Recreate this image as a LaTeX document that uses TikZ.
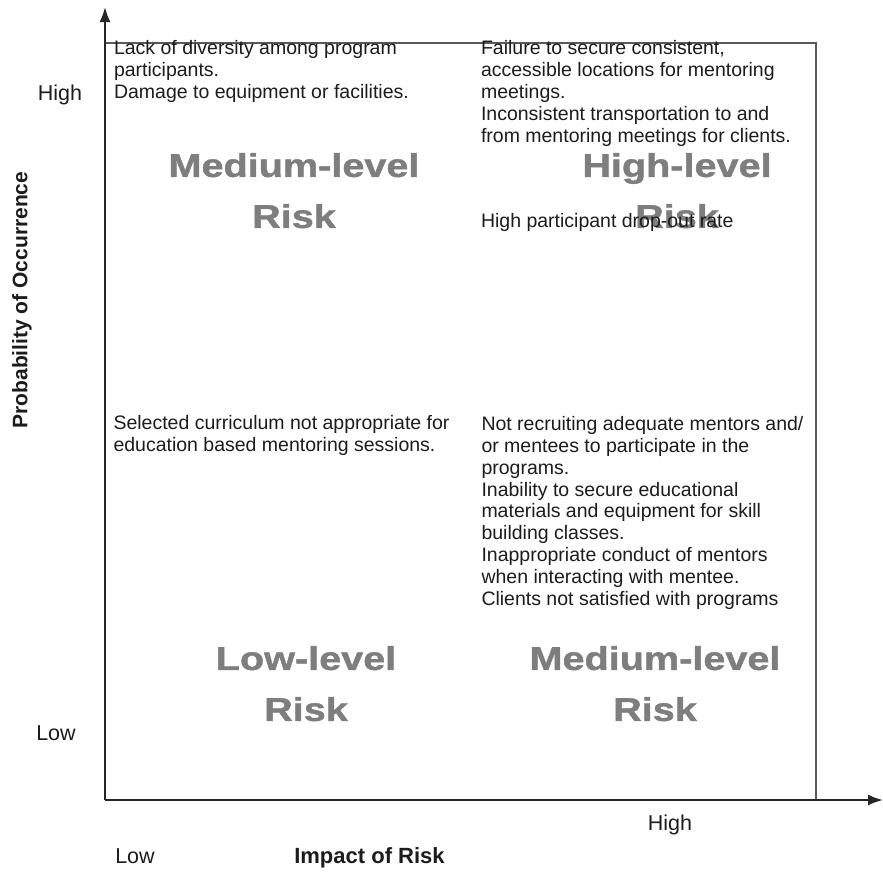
\documentclass[tikz,border=0pt]{standalone}
\usepackage{fontspec}
\setmainfont{Liberation Sans}
\newfontfamily\riskfont[FakeBold=1.2]{Liberation Sans Bold}
\usepackage{graphicx}
\usetikzlibrary{arrows.meta}
\newcommand{\wideit}[1]{\scalebox{1.2}[1]{#1}}
\definecolor{riskgray}{HTML}{7E7E7E}
\definecolor{inkblack}{HTML}{1C1C1C}
\begin{document}
\begin{tikzpicture}[x=1pt,y=-1pt,
  every node/.style={inner sep=0pt, outer sep=0pt},
  body/.style={anchor=north west, align=left, text=inkblack, font=\fontsize{19.5}{21.8}\selectfont},
  riskword/.style={anchor=north, align=center, text=riskgray, font=\riskfont\fontsize{33}{51}\selectfont},
  axislbl/.style={anchor=base, text=inkblack, font=\fontsize{21.5}{24}\selectfont},
  axisline/.style={line width=2pt, draw=black!85, -{Latex[length=15pt,width=11pt]}},
  frameline/.style={line width=1.5pt, draw=black!65}]
\useasboundingbox (0,0) rectangle (883,871);
% axes and frame
\coordinate (O) at (105,800);
\coordinate (ytip) at (105,7);
\coordinate (xtip) at (883,800);
\coordinate (FTL) at (105,43);
\coordinate (FTR) at (816,43);
\coordinate (FBR) at (816,800);
\draw[frameline] (FTL) -- (FTR) -- (FBR);
\draw[axisline] (O) -- (ytip);
\draw[axisline] (O) -- (xtip);
% risk level words
\node[riskword] (rtl) at (294,153) {\wideit{Medium-level}\\\wideit{Risk}};
\node[riskword] (rtr) at (677,153) {\wideit{High-level}\\\wideit{Risk}};
\node[riskword] (rbl) at (306,646) {\wideit{Low-level}\\\wideit{Risk}};
\node[riskword] (rbr) at (655,646) {\wideit{Medium-level}\\\wideit{Risk}};
% quadrant texts
\node[body] (tl) at (114,40.8) {Lack of diversity among program\\participants.\\Damage to equipment or facilities.};
\node[body] (tr) at (481,40.8) {Failure to secure consistent,\\accessible locations for mentoring\\meetings.\\Inconsistent transportation to and\\from mentoring meetings for clients.};
\node[body] (tr2) at (481,213.8) {High participant drop-out rate};
\node[body] (ml) at (113.5,415.6) {Selected curriculum not appropriate for\\education based mentoring sessions.};
\node[body] (mr) at (481.5,416.6) {Not recruiting adequate mentors and/\\or mentees to participate in the\\programs.\\Inability to secure educational\\materials and equipment for skill\\building classes.\\Inappropriate conduct of mentors\\when interacting with mentee.\\Clients not satisfied with programs};
% axis labels
\node[axislbl] (yhigh) at (60,100) {High};
\node[axislbl] (ylow) at (56,740) {Low};
\node[axislbl] (xhigh) at (670,830) {High};
\node[axislbl] (xlow) at (135,863) {Low};
\node[anchor=base, text=inkblack, font=\bfseries\fontsize{22}{24}\selectfont] (xtitle) at (369.5,863) {Impact of Risk};
\node[rotate=90, text=inkblack, font=\bfseries\fontsize{21}{24}\selectfont] (ytitle) at (22,300) {Probability of Occurrence};
\end{tikzpicture}
\end{document}
